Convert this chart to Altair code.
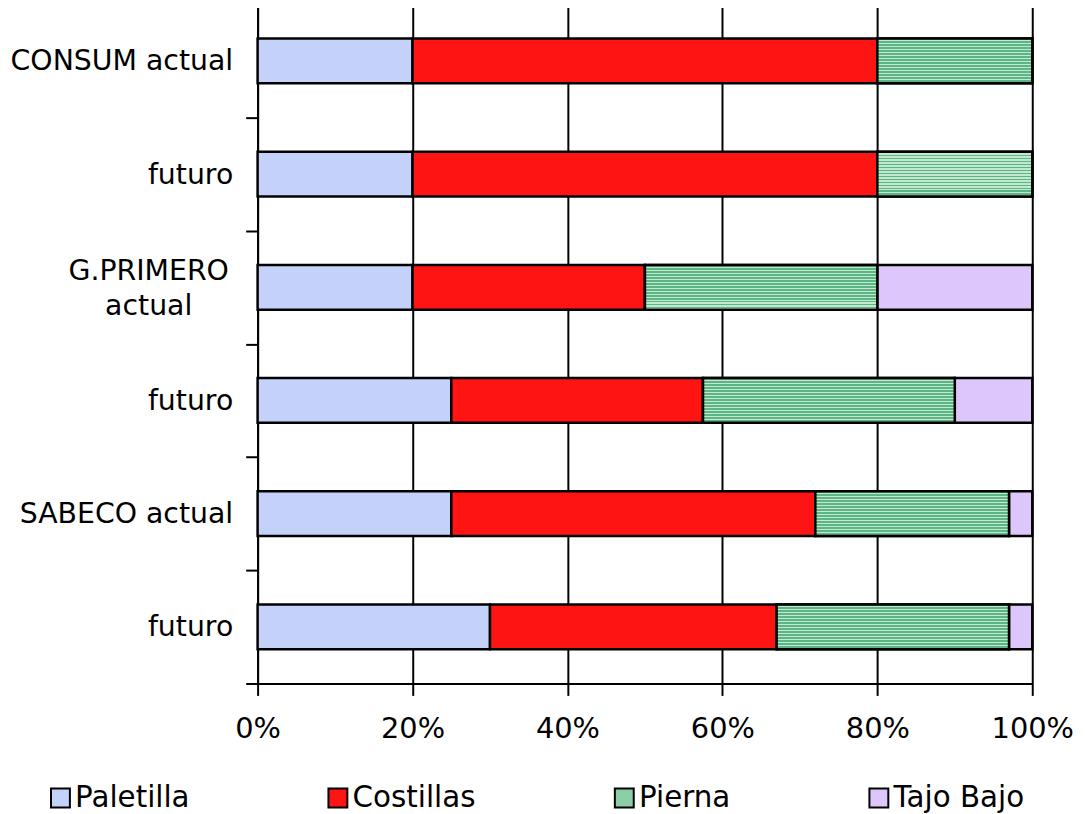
import altair as alt
import pandas as pd

categories = ["CONSUM actual", "CONSUM futuro", "G.PRIMERO actual",
              "G.PRIMERO futuro", "SABECO actual", "SABECO futuro"]
parts = ["Paletilla", "Costillas", "Pierna", "Tajo Bajo"]
paletilla = [20, 20, 20, 25, 25, 30]
costillas = [60, 60, 30, 32.5, 47, 37]
pierna = [20, 20, 30, 32.5, 25, 30]
tajo_bajo = [0, 0, 20, 10, 3, 3]
colors = ["#c4d2fa", "#ff1414", "#8ccfa6", "#dcc6fa"]
x_ticks = [0, 0.2, 0.4, 0.6, 0.8, 1.0]

rows = []
for series, name in zip([paletilla, costillas, pierna, tajo_bajo], parts):
    for cat, v in zip(categories, series):
        if v > 0:
            rows.append({"cat": cat, "part": name, "value": v,
                         "ord": parts.index(name)})
df = pd.DataFrame(rows)

FONT = "DejaVu Sans"

# horizontal stripe texture for "Pierna"
n_stripes = 15
stops = []
for i in range(n_stripes):
    a = i / n_stripes
    b = (i + 0.6) / n_stripes
    c = (i + 1) / n_stripes
    stops += [{"offset": a, "color": "#5cb585"}, {"offset": b, "color": "#5cb585"},
              {"offset": b, "color": "#c2e8cf"}, {"offset": c, "color": "#c2e8cf"}]
stripe = {"gradient": "linear", "x1": 0, "y1": 0, "x2": 0, "y2": 1, "stops": stops}

label_expr = ("datum.label == 'G.PRIMERO actual' ? ['G.PRIMERO', 'actual'] : "
              "(indexof(datum.label, 'futuro') >= 0 ? 'futuro' : datum.label)")
is_gp = "datum.label == 'G.PRIMERO actual'"

x_axis = alt.Axis(format="%", values=x_ticks, title=None, grid=True,
                  gridColor="black", gridWidth=2, gridOpacity=1,
                  domainColor="black", domainWidth=2,
                  tickColor="black", tickWidth=2, tickSize=12,
                  labelFont=FONT, labelFontSize=29, labelColor="black",
                  labelPadding=19, labelFlush=False)
y_axis = alt.Axis(title=None, labelExpr=label_expr, tickBand="extent",
                  domainColor="black", domainWidth=2,
                  tickColor="black", tickWidth=2, tickSize=12,
                  labelFont=FONT, labelFontSize=28.5, labelColor="black",
                  labelLineHeight=35, labelLimit=400,
                  labelAlign=alt.condition(is_gp, alt.value("center"), alt.value("right")),
                  labelOffset=alt.condition(is_gp, alt.value(-17), alt.value(0)),
                  labelPadding=alt.condition(is_gp, alt.value(98), alt.value(13)))
x_scale = alt.Scale(domain=[0, 1], nice=False)
y_scale = alt.Scale(paddingInner=0, paddingOuter=0)

base = alt.Chart(df)

bars = base.mark_bar(size=45, stroke="black", strokeWidth=2.5).encode(
    x=alt.X("value:Q", stack="normalize", scale=x_scale, axis=x_axis),
    y=alt.Y("cat:N", sort=categories, scale=y_scale, axis=y_axis),
    color=alt.Color("part:N", sort=parts,
                    scale=alt.Scale(domain=parts, range=colors),
                    legend=alt.Legend(title=None, orient="none", direction="horizontal",
                                      legendX=-213, legendY=783, padding=0,
                                      symbolType="square", symbolSize=361,
                                      symbolStrokeColor="black", symbolStrokeWidth=2,
                                      labelFont=FONT, labelFontSize=29.5,
                                      labelColor="black", labelOffset=0,
                                      labelLimit=400, columnPadding=134)),
    order=alt.Order("ord:Q", sort="ascending"),
)

pierna_tex = base.transform_stack(
    stack="value", as_=["x0", "x1"], groupby=["cat"], offset="normalize",
    sort=[alt.SortField("ord", order="ascending")],
).transform_filter(
    alt.datum.part == "Pierna"
).mark_bar(size=45, stroke="black", strokeWidth=2.5, fill=stripe).encode(
    x=alt.X("x0:Q", scale=x_scale, axis=x_axis),
    x2="x1:Q",
    y=alt.Y("cat:N", sort=categories, scale=y_scale, axis=y_axis),
)

chart = alt.layer(bars, pierna_tex).properties(
    width=779, height=683,
    autosize=alt.AutoSizeParams(type="none"),
    padding={"left": 251, "top": -6, "right": 45, "bottom": 129},
).configure_view(stroke=None)

chart.save("out.html", embed_options={"renderer": "svg", "actions": False})
